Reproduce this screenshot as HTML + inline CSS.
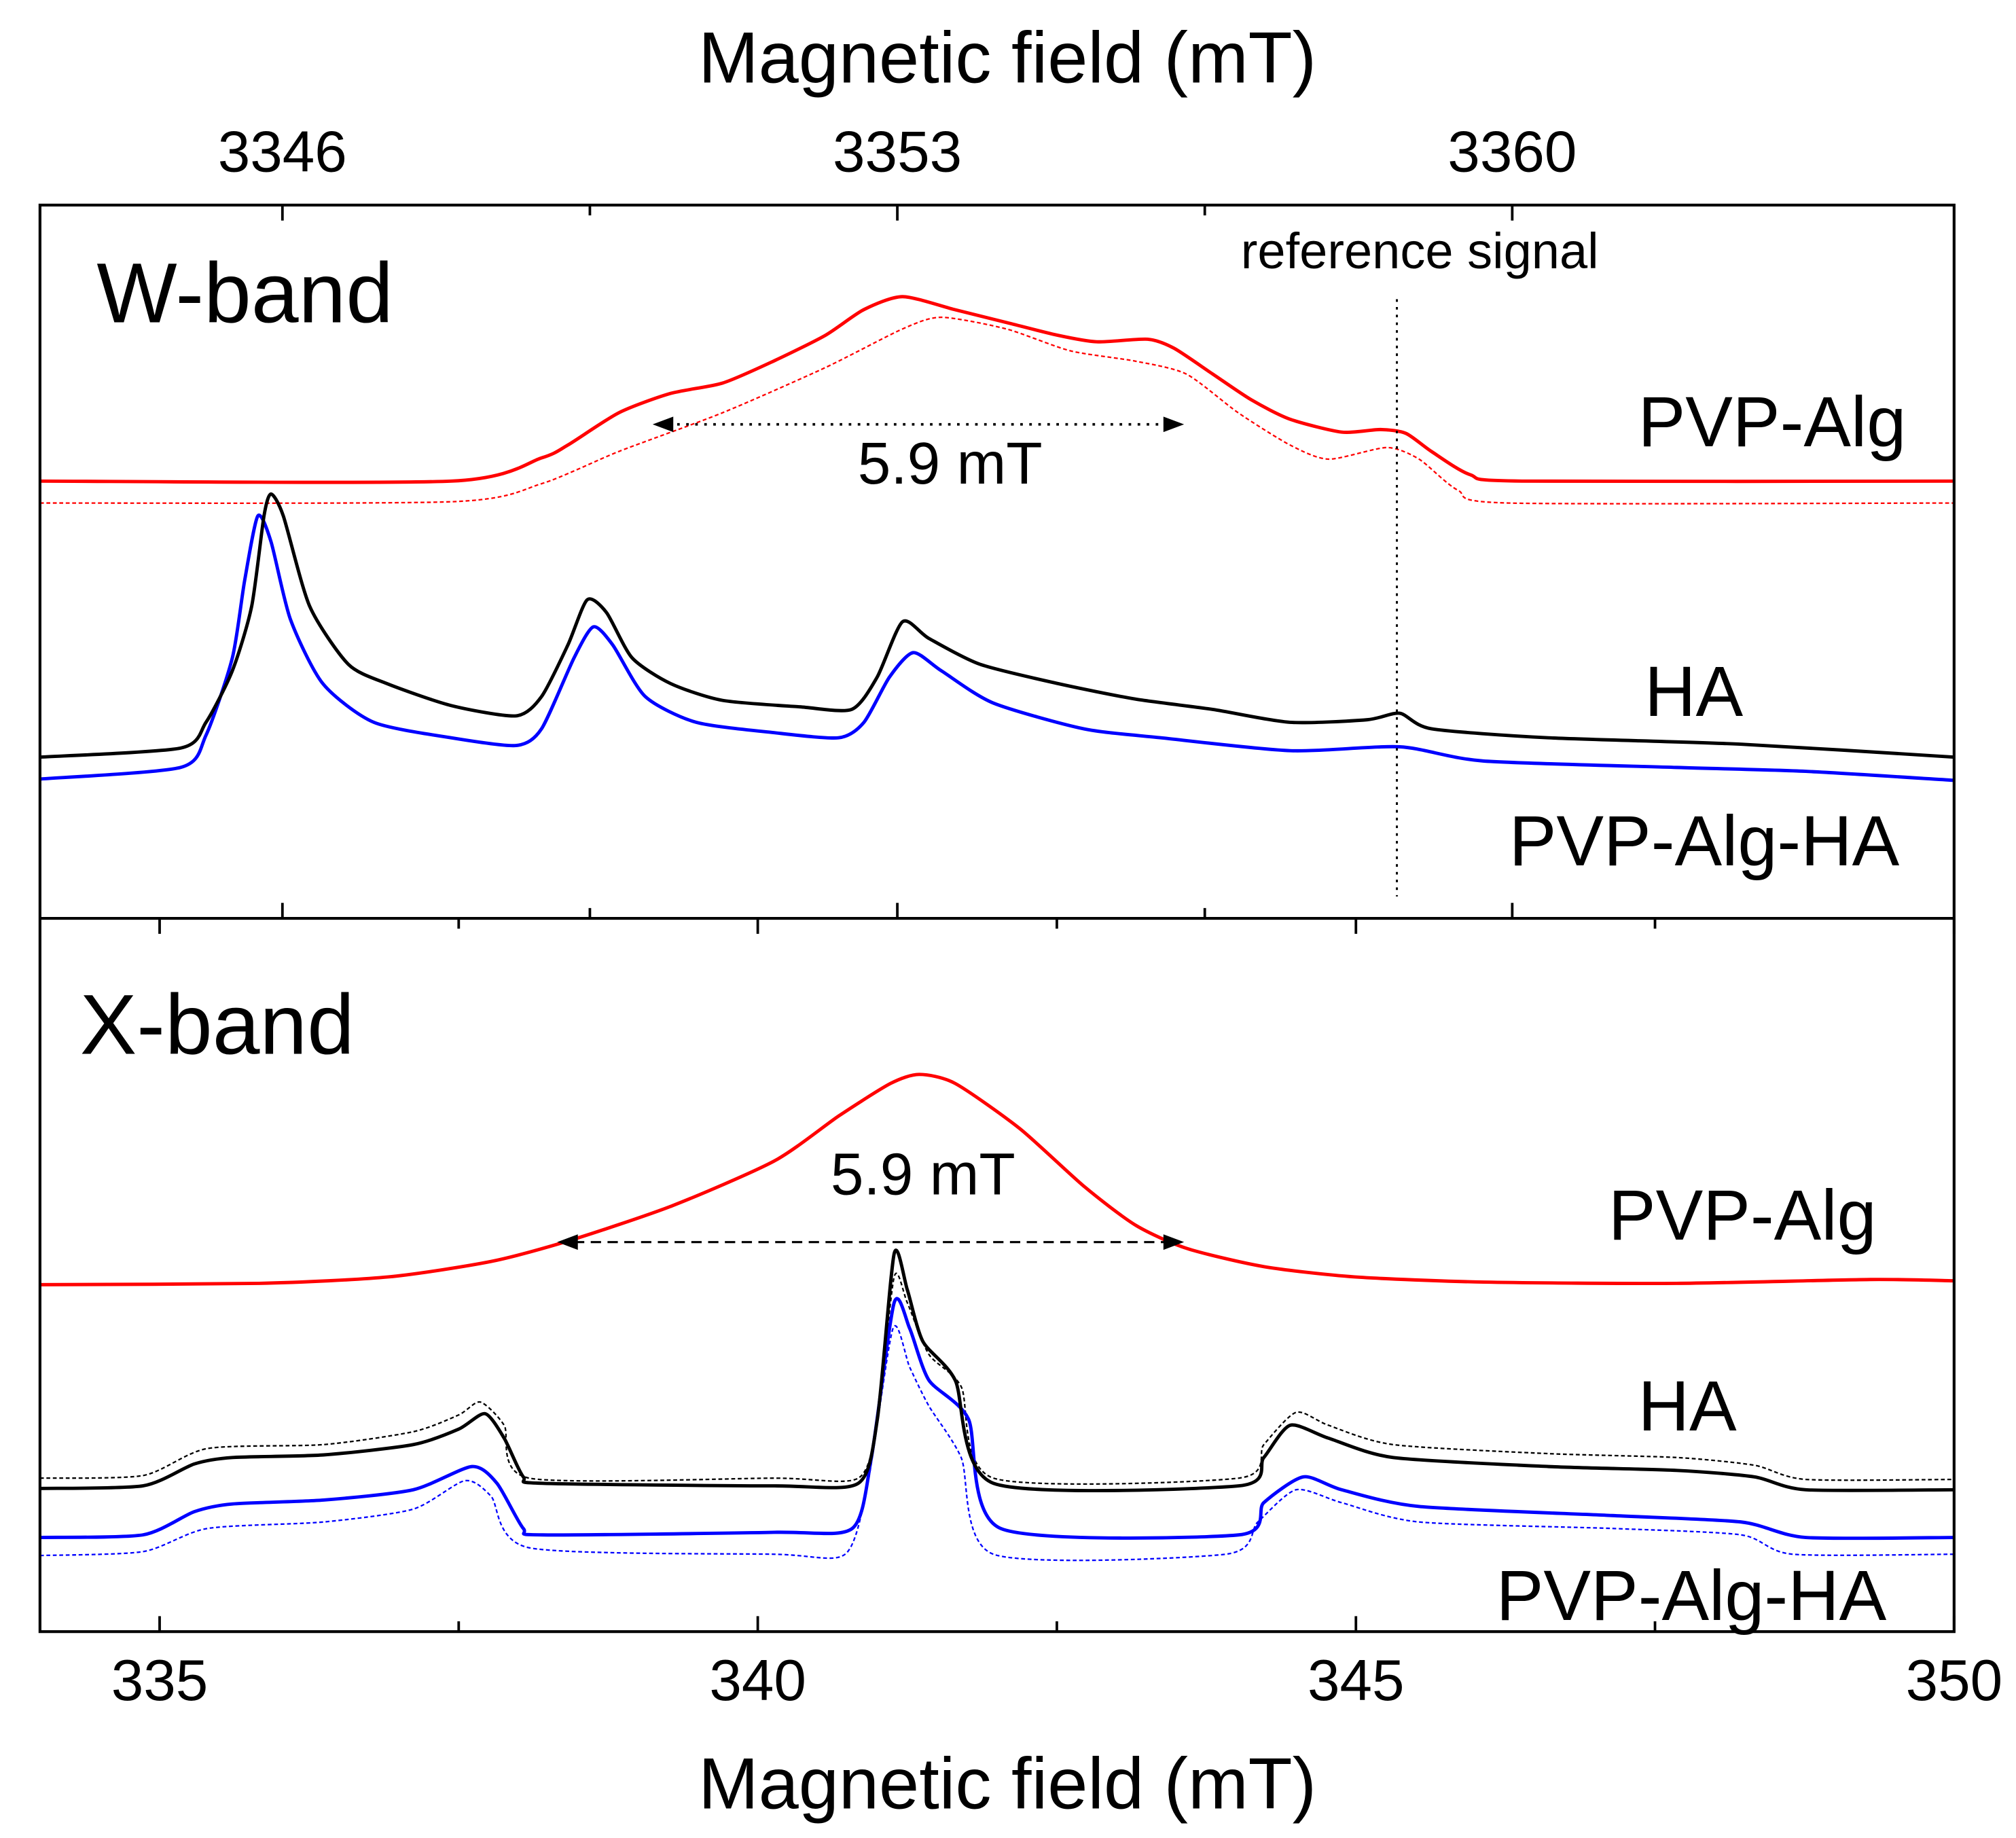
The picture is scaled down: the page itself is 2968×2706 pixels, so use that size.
<!DOCTYPE html>
<html><head><meta charset="utf-8"><style>
html,body{margin:0;padding:0;background:#fff}
svg{display:block}
text{font-family:"Liberation Sans",Arial,sans-serif;fill:#000}
</style></head><body>
<svg id="chart" width="2968" height="2706" viewBox="0 0 1563 1425" preserveAspectRatio="none" xmlns="http://www.w3.org/2000/svg">
<rect x="0" y="0" width="1563" height="1425" fill="#fff"/>
<g id="marks"></g>
<rect x="31" y="159" width="1484" height="1106" fill="none" stroke="#000" stroke-width="2.2"/>
<line x1="31" y1="712" x2="1515" y2="712" stroke="#000" stroke-width="2.2"/>
<g id="ticks"></g>
<text x="781" y="64" font-size="56" text-anchor="middle">Magnetic field (mT)</text>
<text x="781" y="1402" font-size="56" text-anchor="middle">Magnetic field (mT)</text>
<text x="75" y="250" font-size="66">W-band</text>
<text x="62" y="817" font-size="66">X-band</text>
<text x="962" y="208" font-size="39">reference signal</text>
<text x="665" y="375" font-size="46">5.9 mT</text>
<text x="644" y="926" font-size="46">5.9 mT</text>
<text x="1270" y="346" font-size="55">PVP-Alg</text>
<text x="1275" y="555" font-size="55">HA</text>
<text x="1170" y="671" font-size="55">PVP-Alg-HA</text>
<text x="1247" y="961" font-size="55">PVP-Alg</text>
<text x="1270" y="1109" font-size="55">HA</text>
<text x="1160" y="1256" font-size="55">PVP-Alg-HA</text>
<line x1="1083" y1="232" x2="1083" y2="695" stroke="#000" stroke-width="1.6" stroke-dasharray="2,4"/>
<line x1="518" y1="329" x2="907" y2="329" stroke="#000" stroke-width="2" stroke-dasharray="2,5"/>
<polygon points="506,329 522,323 522,335" fill="#000"/>
<polygon points="918,329 902,323 902,335" fill="#000"/>
<line x1="445" y1="963" x2="905" y2="963" stroke="#000" stroke-width="1.6" stroke-dasharray="8,5"/>
<polygon points="432,963 448,957 448,969" fill="#000"/>
<polygon points="918,963 902,957 902,969" fill="#000"/>
</svg>
<script>
// Data arrays [field (mT), intensity (a.u.)]
const topTicks = [3346, 3353, 3360];
const topMinor = [3349.5, 3356.5];
const bottomTicks = [335, 340, 345, 350];
const bottomMinor = [337.5, 342.5, 347.5];
const wRed = [[3343.24,339],[3347.92,339],[3348.95,357],[3349.25,367],[3349.83,392],[3350.42,407],[3351.01,415],[3351.59,432],[3352.18,452],[3352.62,472],[3353.06,482],[3353.65,472],[3354.24,462],[3354.83,452],[3355.27,447],[3355.85,449],[3356.15,442],[3356.59,422],[3357.03,402],[3357.47,387],[3358.06,377],[3358.5,379],[3358.79,376],[3359.08,362],[3359.52,344],[3360.11,339],[3365.03,339]];
const wRedSim = [[3343.24,322],[3347.92,323],[3348.95,337],[3349.83,362],[3351.01,392],[3352.18,427],[3353.06,457],[3353.5,466],[3354.24,457],[3354.97,440],[3355.71,432],[3356.29,422],[3356.88,392],[3357.47,367],[3357.91,356],[3358.57,365],[3358.94,356],[3359.38,332],[3359.96,322],[3365.03,322]];
const wBlack = [[3343.24,125],[3344.84,132],[3345.13,152],[3345.43,192],[3345.65,242],[3345.79,312],[3345.87,329],[3346.01,312],[3346.31,242],[3346.75,197],[3347.19,182],[3347.92,165],[3348.66,157],[3348.95,172],[3349.25,212],[3349.47,247],[3349.69,237],[3349.98,202],[3350.42,182],[3351.01,169],[3351.89,164],[3352.48,162],[3352.77,187],[3353.06,230],[3353.36,217],[3353.94,197],[3354.83,182],[3355.71,170],[3356.59,162],[3357.47,152],[3358.35,154],[3358.72,159],[3359.08,147],[3360.41,140],[3362.61,135],[3365.03,125]];
const wBlue = [[3343.24,108],[3344.84,117],[3345.13,142],[3345.43,202],[3345.57,262],[3345.72,312],[3345.87,292],[3346.09,232],[3346.46,182],[3347.04,152],[3347.92,140],[3348.66,134],[3348.95,147],[3349.32,202],[3349.54,226],[3349.76,212],[3350.13,172],[3350.71,152],[3351.59,144],[3352.33,140],[3352.62,152],[3352.91,187],[3353.18,206],[3353.5,192],[3354.09,167],[3355.12,147],[3356.0,140],[3357.47,130],[3358.72,133],[3359.67,122],[3361.87,117],[3363.34,114],[3365.03,107]];
const xRed = [[334,269],[335.83,270],[336.91,275],[337.77,287],[338.42,303],[339.28,330],[340.14,365],[340.68,400],[341.11,425],[341.35,432],[341.65,425],[342.19,390],[342.73,345],[343.16,315],[343.59,297],[344.23,283],[344.99,275],[346.07,271],[347.68,270],[349.30,273],[350,272]];
const xBlack = [[334,111],[334.86,113],[335.29,130],[335.61,135],[336.37,137],[337.12,145],[337.50,157],[337.72,169],[337.88,150],[338.04,120],[338.20,115],[340.14,113],[340.84,115],[341.00,165],[341.14,293],[341.25,265],[341.38,225],[341.65,195],[341.97,115],[344.02,113],[344.23,135],[344.45,160],[344.77,150],[345.31,135],[346.61,128],[347.68,125],[348.33,120],[348.76,110],[350,110]];
const xBlackSim = [[334,119],[334.86,121],[335.40,142],[336.37,145],[337.12,155],[337.50,168],[337.68,178],[337.88,160],[338.09,119],[340.14,119],[340.84,119],[341.00,165],[341.14,275],[341.25,255],[341.43,215],[341.70,190],[341.97,119],[344.02,119],[344.23,145],[344.50,170],[344.77,160],[345.31,145],[346.61,138],[347.68,135],[348.33,129],[348.76,118],[350,118]];
const xBlue = [[334,73],[334.86,75],[335.29,93],[335.61,99],[336.37,102],[337.12,110],[337.61,128],[337.82,115],[338.04,80],[338.20,75],[340.14,77],[340.79,80],[340.95,135],[341.14,255],[341.27,235],[341.43,195],[341.76,165],[342.03,80],[344.02,75],[344.23,100],[344.56,120],[344.88,110],[345.53,97],[347.14,90],[348.22,85],[348.76,73],[350,73]];
const xBlueSim = [[334,59],[334.86,62],[335.40,80],[336.37,85],[337.12,95],[337.55,117],[337.77,105],[338.09,65],[340.14,60],[340.73,60],[340.92,115],[341.13,235],[341.27,205],[341.43,175],[341.70,135],[341.97,60],[343.91,60],[344.18,85],[344.50,110],[344.88,100],[345.53,85],[347.14,80],[348.22,75],[348.65,60],[350,60]];

const L = 31, R = 1515;
function xTop(f){ return L + (f - 3343.24) / (3365.03 - 3343.24) * (R - L); }
function xBot(f){ return L + (f - 334) / (350 - 334) * (R - L); }
function yW(v){ return 712 - v; }
function yX(v){ return 1265 - v; }
const NS = 'http://www.w3.org/2000/svg';
function pathD(data, xs, ys){
  const p = data.map(d => [xs(d[0]), ys(d[1])]);
  let d = 'M' + p[0][0].toFixed(2) + ',' + p[0][1].toFixed(2);
  const t = 0.12;
  for (let i = 0; i < p.length - 1; i++) {
    const p0 = p[Math.max(0, i-1)], p1 = p[i], p2 = p[i+1], p3 = p[Math.min(p.length-1, i+2)];
    const c1x = p1[0] + (p2[0]-p0[0])*t, c1y = p1[1] + (p2[1]-p0[1])*t;
    const c2x = p2[0] - (p3[0]-p1[0])*t, c2y = p2[1] - (p3[1]-p1[1])*t;
    d += ' C' + c1x.toFixed(2)+','+c1y.toFixed(2)+' '+c2x.toFixed(2)+','+c2y.toFixed(2)+' '+p2[0].toFixed(2)+','+p2[1].toFixed(2);
  }
  return d;
}
const marks = document.getElementById('marks');
function addLine(name, data, xs, ys, color, w, dash){
  const el = document.createElementNS(NS, 'path');
  el.setAttribute('d', pathD(data, xs, ys));
  el.setAttribute('fill', 'none');
  el.setAttribute('stroke', color);
  el.setAttribute('stroke-width', w);
  el.setAttribute('stroke-linejoin', 'round');
  if (dash) el.setAttribute('stroke-dasharray', dash);
  
  
  marks.appendChild(el);
}
addLine('w-pvp-alg-simulated', wRedSim, xTop, yW, '#ff0000', 1.2, '3,2');
addLine('w-pvp-alg-line', wRed, xTop, yW, '#ff0000', 2.6);
addLine('w-pvp-alg-ha-line', wBlue, xTop, yW, '#0000ff', 2.6);
addLine('w-ha-line', wBlack, xTop, yW, '#000000', 2.6);
addLine('x-pvp-alg-line', xRed, xBot, yX, '#ff0000', 2.6);
addLine('x-ha-simulated', xBlackSim, xBot, yX, '#000000', 1.2, '3,2');
addLine('x-pvp-alg-ha-simulated', xBlueSim, xBot, yX, '#0000ff', 1.2, '3,2');
addLine('x-pvp-alg-ha-line', xBlue, xBot, yX, '#0000ff', 2.6);
addLine('x-ha-line', xBlack, xBot, yX, '#000000', 2.6);

const tg = document.getElementById('ticks');
function tick(name, x, y1, y2){
  const el = document.createElementNS(NS, 'line');
  el.setAttribute('x1', x); el.setAttribute('x2', x);
  el.setAttribute('y1', y1); el.setAttribute('y2', y2);
  el.setAttribute('stroke', '#000'); el.setAttribute('stroke-width', 2);
  
  
  tg.appendChild(el);
}
function label(name, x, y, s){
  const el = document.createElementNS(NS, 'text');
  el.setAttribute('x', x); el.setAttribute('y', y);
  el.setAttribute('font-size', 45);
  el.setAttribute('text-anchor', 'middle');
  el.textContent = s;
  
  
  tg.appendChild(el);
}
topTicks.forEach(f => {
  const x = xTop(f);
  tick('top-tick', x, 159, 171);
  tick('divider-top-tick', x, 700, 712);
  label('top-tick-label', x, 133, String(f));
});
topMinor.forEach(f => {
  const x = xTop(f);
  tick('top-minor-tick', x, 159, 167);
  tick('divider-top-minor-tick', x, 704, 712);
});
bottomTicks.forEach(f => {
  const x = xBot(f);
  tick('bottom-tick', x, 1253, 1265);
  tick('divider-bottom-tick', x, 712, 724);
  label('bottom-tick-label', x, 1318, String(f));
});
bottomMinor.forEach(f => {
  const x = xBot(f);
  tick('bottom-minor-tick', x, 1257, 1265);
  tick('divider-bottom-minor-tick', x, 712, 720);
});
</script>
</body></html>
